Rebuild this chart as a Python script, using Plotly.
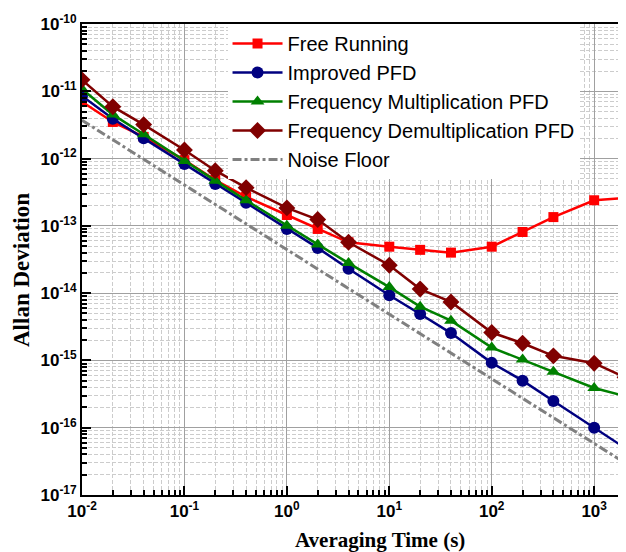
import plotly.graph_objects as go

tau = [0.01, 0.02, 0.04, 0.1, 0.2, 0.4, 1, 2, 4, 10, 20, 40, 100, 200, 400, 1000, 2000]

free_running = [7.0e-12, 3.5e-12, 2.1e-12, 9.5e-13, 4.8e-13, 2.7e-13, 1.45e-13, 9.0e-14, 5.7e-14,
                4.9e-14, 4.4e-14, 4.0e-14, 4.9e-14, 8.1e-14, 1.35e-13, 2.4e-13, 2.6e-13]
improved_pfd = [8.5e-12, 3.9e-12, 2.0e-12, 8.3e-13, 4.2e-13, 2.2e-13, 9.0e-14, 4.7e-14, 2.3e-14,
                9.3e-15, 4.9e-15, 2.55e-15, 9.2e-16, 5.0e-16, 2.5e-16, 1.0e-16, 5.0e-17]
freq_mult_pfd = [1.08e-11, 4.5e-12, 2.3e-12, 9.2e-13, 4.7e-13, 2.4e-13, 1.0e-13, 5.3e-14, 2.8e-14,
                 1.23e-14, 6.3e-15, 3.9e-15, 1.55e-15, 1.03e-15, 6.8e-16, 3.9e-16, 2.95e-16]
freq_demult_pfd = [1.48e-11, 5.9e-12, 3.2e-12, 1.34e-12, 6.6e-13, 3.7e-13, 1.85e-13, 1.24e-13, 5.7e-14,
                   2.6e-14, 1.15e-14, 7.4e-15, 2.6e-15, 1.8e-15, 1.17e-15, 9.1e-16, 5.6e-16]
noise_tau = [0.01, 2000]
noise_floor = [3.7e-12, 3.0e-17]

x_tickvals = [1e-2, 1e-1, 1e0, 1e1, 1e2, 1e3]
x_ticktext = ["<b>10<sup>-2</sup></b>", "<b>10<sup>-1</sup></b>", "<b>10<sup>0</sup></b>",
              "<b>10<sup>1</sup></b>", "<b>10<sup>2</sup></b>", "<b>10<sup>3</sup></b>"]
y_tickvals = [1e-17, 1e-16, 1e-15, 1e-14, 1e-13, 1e-12, 1e-11, 1e-10]
y_ticktext = ["<b>10<sup>-17</sup></b>", "<b>10<sup>-16</sup></b>", "<b>10<sup>-15</sup></b>",
              "<b>10<sup>-14</sup></b>", "<b>10<sup>-13</sup></b>", "<b>10<sup>-12</sup></b>",
              "<b>10<sup>-11</sup></b>", "<b>10<sup>-10</sup></b>"]

# minor tick positions (2..9 in each decade)
x_minor = [m * 10.0 ** e for e in range(-2, 4) for m in range(2, 10)]
y_minor = [m * 10.0 ** e for e in range(-17, -10) for m in range(2, 10)]

fig = go.Figure()

def add(x, y, name, color, symbol, size):
    fig.add_trace(go.Scatter(x=x, y=y, name=name, mode="lines+markers",
                             line=dict(color=color, width=2.5),
                             marker=dict(symbol=symbol, size=size, color=color)))

add(tau, free_running, "Free Running", "#FF0000", "square", 10)
add(tau, improved_pfd, "Improved PFD", "#000080", "circle", 12)
add(tau, freq_mult_pfd, "Frequency Multiplication PFD", "#008000", "triangle-up", 12)
add(tau, freq_demult_pfd, "Frequency Demultiplication PFD", "#800000", "diamond", 13)
fig.add_trace(go.Scatter(x=noise_tau, y=noise_floor, name="Noise Floor", mode="lines",
                         line=dict(color="#808080", width=3, dash="dashdot")))

axis_common = dict(
    type="log", showline=True, linecolor="black", linewidth=2, mirror=True,
    ticks="inside", ticklen=9, tickwidth=2, tickcolor="black",
    showgrid=True, gridcolor="#a0a0a0", gridwidth=1,
    tickfont=dict(family="Liberation Sans", size=17, color="black"),
    zeroline=False, automargin=False,
)
minor_common = dict(ticks="inside", ticklen=5, tickwidth=1.5, tickcolor="black",
                    showgrid=True, gridcolor="#cccccc", griddash="4px,2px", gridwidth=1,
                    tickmode="array")

# page body has an 8px margin, so the figure is sized/offset to compensate
fig.update_layout(
    width=618, height=544,
    margin=dict(l=74, r=1, t=16, b=57),
    paper_bgcolor="white", plot_bgcolor="white",
    showlegend=True,
    legend=dict(x=0.268, y=1, xanchor="left", yanchor="top", bgcolor="white",
                borderwidth=0, font=dict(family="Liberation Sans", size=20, color="black"),
                tracegroupgap=0, itemwidth=50),
    xaxis=dict(range=[-2, 3.30103], tickvals=x_tickvals, ticktext=x_ticktext,
               minor=dict(tickvals=x_minor, **minor_common), **axis_common),
    yaxis=dict(range=[-17, -10], tickvals=y_tickvals, ticktext=y_ticktext,
               minor=dict(tickvals=y_minor, **minor_common), **axis_common),
    annotations=[
        dict(text="<b>Averaging Time (s)</b>", xref="paper", yref="paper",
             x=(380 - 82) / 543, y=(495 - 540) / 471, xanchor="center", yanchor="middle",
             showarrow=False, font=dict(family="Liberation Serif", size=21, color="black")),
        dict(text="<b>Allan Deviation</b>", xref="paper", yref="paper", textangle=-90,
             x=(21 - 82) / 543, y=(495 - 270) / 471, xanchor="center", yanchor="middle",
             showarrow=False, font=dict(family="Liberation Serif", size=23, color="black")),
    ],
)

fig.write_html("out.html")
